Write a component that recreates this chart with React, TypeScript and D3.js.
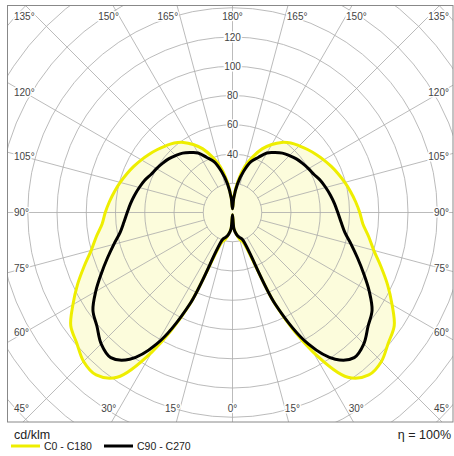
import * as React from 'react';
import { select, scaleLinear, lineRadial, curveCatmullRomClosed } from 'd3';

// gamma angles (deg from nadir) and luminous intensity in cd/klm
const gammaAngles = [0, 5, 10, 15, 20, 25, 30, 35, 40, 45, 50, 55, 60, 65, 70, 75, 80, 85, 90,
    95, 100, 105, 110, 115, 120, 125, 130, 135, 140, 145, 150, 155, 160, 165, 170, 175, 180];
const c0c180 = [1.5, 11, 15, 19, 22, 70, 110, 137.5, 145, 144, 139, 135, 126, 117, 108, 100, 94.5, 89.5, 87,
    84.5, 82, 79.5, 77, 74.5, 72, 69.5, 67, 64.5, 62, 58.5, 53.7, 48, 40.5, 32.5, 22, 11, 2.5];
const c90c270 = [1.5, 11, 15, 17.5, 19.5, 69, 104, 122.5, 129.5, 127, 121, 116.5, 108, 99, 91, 84, 78, 74.5, 72,
    70, 68, 66, 64, 61.5, 60, 58.5, 57, 55, 53, 50, 47, 41.5, 37, 29, 20, 10, 2.5];

const gridRadii = [20, 40, 60, 80, 100, 120, 140, 160, 180, 200];
const radiusLabels = [40, 60, 80, 100, 120];
const angleLabels = [0, 15, 30, 45, 60, 75, 90, 105, 120, 135, 150, 165, 180];

const legendItems = [
    { name: "C0 - C180", color: "#eeee00" },
    { name: "C90 - C270", color: "#000000" }
];

const font = '"Liberation Sans", Arial, sans-serif';
const frame = { left: 7.5, top: 5.5, right: 453, bottom: 422 };
const cx = 232.5;
const cy = 212.5;

const App = () => {
    const svgRef = React.useRef<SVGSVGElement>(null);

    React.useEffect(() => {
        const svg = select(svgRef.current);
        svg.selectAll("*").remove();

        const r = scaleLinear().domain([0, 120]).range([0, 175.5]);
        const rad = (g: number) => g * Math.PI / 180;

        svg.append("rect").attr("width", 454).attr("height", 456).attr("fill", "#fff");

        svg.append("clipPath").attr("id", "frameClip")
            .append("rect")
            .attr("x", frame.left).attr("y", frame.top)
            .attr("width", frame.right - frame.left).attr("height", frame.bottom - frame.top);

        const plot = svg.append("g")
            .attr("clip-path", "url(#frameClip)");
        const inner = plot.append("g").attr("transform", `translate(${cx},${cy})`);

        // closed outline: right half 0..180, then left half back down
        const outline = (vals: number[]) => {
            const pts: [number, number][] = gammaAngles.map((g, i) => [Math.PI - rad(g), r(vals[i])]);
            for (let i = gammaAngles.length - 2; i > 0; i--) {
                pts.push([Math.PI + rad(gammaAngles[i]), r(vals[i])]);
            }
            return lineRadial<[number, number]>()
                .angle(d => d[0])
                .radius(d => d[1])
                .curve(curveCatmullRomClosed.alpha(0.5))(pts);
        };

        inner.append("path").attr("d", outline(c0c180)).attr("fill", "#fcfcdc");
        inner.append("path").attr("d", outline(c90c270)).attr("fill", "#fcfcdc");

        // grid
        const grid = inner.append("g").attr("stroke", "#aaaaaa").attr("stroke-width", 0.8).attr("fill", "none");
        grid.selectAll("circle").data(gridRadii).join("circle").attr("r", d => r(d));
        const spokes: number[] = [];
        for (let a = 0; a < 360; a += 15) spokes.push(a);
        grid.selectAll("line").data(spokes).join("line")
            .attr("x1", d => r(20) * Math.sin(rad(d)))
            .attr("y1", d => -r(20) * Math.cos(rad(d)))
            .attr("x2", d => r(230) * Math.sin(rad(d)))
            .attr("y2", d => -r(230) * Math.cos(rad(d)));

        // curves
        inner.append("path").attr("d", outline(c0c180))
            .attr("fill", "none").attr("stroke", legendItems[0].color).attr("stroke-width", 3);
        inner.append("path").attr("d", outline(c90c270))
            .attr("fill", "none").attr("stroke", legendItems[1].color).attr("stroke-width", 3);

        // radius labels
        inner.selectAll(".rlabel").data(radiusLabels).join("text")
            .attr("class", "rlabel")
            .attr("x", 0).attr("y", d => -r(d)).attr("dy", "0.35em")
            .attr("text-anchor", "middle")
            .attr("font-family", font).attr("font-size", 10).attr("fill", "#444")
            .attr("stroke", "#fff").attr("stroke-width", 3).attr("paint-order", "stroke")
            .text(d => d);

        // angle labels
        const labels: { x: number, y: number, anchor: string, text: string }[] = [];
        angleLabels.forEach(g => {
            const sides = g === 0 || g === 180 ? [1] : [-1, 1];
            sides.forEach(s => {
                const t = rad(g);
                let x: number, y: number, anchor: string;
                if (g === 45 || g === 135) {
                    x = s < 0 ? 14 : 449;
                    y = g === 45 ? 408 : 16;
                    anchor = s < 0 ? "start" : "end";
                } else if (g > 45 && g < 135) {
                    x = s < 0 ? 14 : 449;
                    y = cy + 207.5 * Math.cos(t) / Math.sin(t);
                    anchor = s < 0 ? "start" : "end";
                } else {
                    y = g < 90 ? 408 : 16;
                    const dist = Math.abs(y - cy) / Math.abs(Math.cos(t));
                    x = cx + s * dist * Math.sin(t);
                    if (g === 0 || g === 180) {
                        anchor = "middle";
                    } else {
                        const off = g < 90 ? 11 * Math.tan(t) - 3 : 3 - 5 * Math.abs(Math.tan(t));
                        x += s * off;
                        anchor = s < 0 ? "end" : "start";
                    }
                }
                labels.push({ x, y, anchor, text: `${g}°` });
            });
        });
        svg.selectAll(".alabel").data(labels).join("text")
            .attr("class", "alabel")
            .attr("x", d => d.x).attr("y", d => d.y).attr("dy", "0.35em")
            .attr("text-anchor", d => d.anchor)
            .attr("font-family", font).attr("font-size", 10).attr("fill", "#444")
            .attr("stroke", "#fff").attr("stroke-width", 3).attr("paint-order", "stroke")
            .text(d => d.text);

        // frame
        svg.append("rect")
            .attr("x", frame.left).attr("y", frame.top)
            .attr("width", frame.right - frame.left).attr("height", frame.bottom - frame.top)
            .attr("fill", "none").attr("stroke", "#888").attr("stroke-width", 1);

        // legend
        svg.append("text").attr("x", 14).attr("y", 439)
            .attr("font-family", font).attr("font-size", 12.5).attr("fill", "#222")
            .text("cd/klm");
        svg.append("text").attr("x", 451).attr("y", 439).attr("text-anchor", "end")
            .attr("font-family", font).attr("font-size", 12.5).attr("fill", "#222")
            .text("η = 100%");

        const legend = svg.selectAll(".legend").data(legendItems).join("g")
            .attr("class", "legend")
            .attr("transform", (d, i) => `translate(${11 + i * 93},446)`);
        legend.append("line").attr("x1", 0).attr("x2", 29)
            .attr("stroke", d => d.color).attr("stroke-width", 3);
        legend.append("text").attr("x", 33).attr("dy", "0.35em")
            .attr("font-family", font).attr("font-size", 10.5).attr("fill", "#222")
            .text(d => d.name);
    }, []);

    return (
        <svg ref={svgRef} width={454} height={456} style={{ position: 'absolute', left: 0, top: 0 }} />
    );
}

export default App;
